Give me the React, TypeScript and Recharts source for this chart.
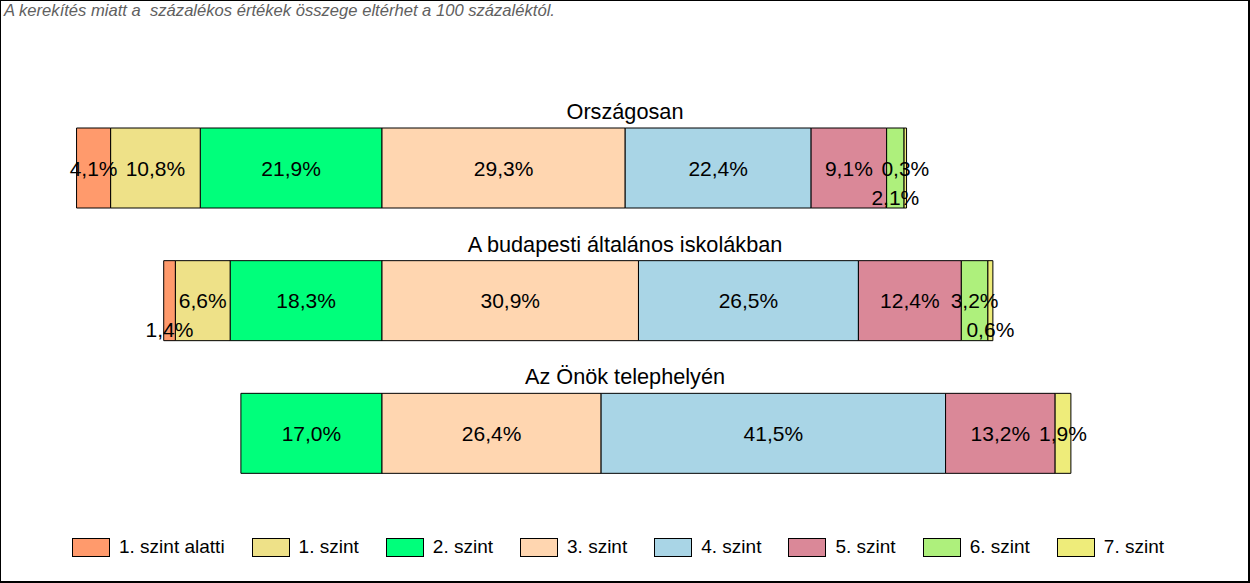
import React from 'react'
import { BarChart, Bar, XAxis, YAxis, Legend, LabelList } from 'recharts'

// ---- adatok ----
const categories = ['Országosan', 'A budapesti általános iskolákban', 'Az Önök telephelyén']

const szintAlatti = [4.1, 1.4, 0]
const szint1 = [10.8, 6.6, 0]
const szint2 = [21.9, 18.3, 17.0]
const szint3 = [29.3, 30.9, 26.4]
const szint4 = [22.4, 26.5, 41.5]
const szint5 = [9.1, 12.4, 13.2]
const szint6 = [2.1, 3.2, 0]
const szint7 = [0.3, 0.6, 1.9]

const legendNames = [
  '1. szint alatti',
  '1. szint',
  '2. szint',
  '3. szint',
  '4. szint',
  '5. szint',
  '6. szint',
  '7. szint',
]

const FONT = '"Liberation Sans", Arial, sans-serif'

// series: key, név, szín, balra (negatív) megy-e
const SERIES = [
  { key: 'alatti', name: legendNames[0], color: '#FF9A6C', values: szintAlatti, left: true },
  { key: 's1', name: legendNames[1], color: '#EEE188', values: szint1, left: true },
  { key: 's2', name: legendNames[2], color: '#00FF7B', values: szint2, left: true },
  { key: 's3', name: legendNames[3], color: '#FFD6B0', values: szint3, left: false },
  { key: 's4', name: legendNames[4], color: '#A9D5E6', values: szint4, left: false },
  { key: 's5', name: legendNames[5], color: '#DA8898', values: szint5, left: false },
  { key: 's6', name: legendNames[6], color: '#AEF07C', values: szint6, left: false },
  { key: 's7', name: legendNames[7], color: '#EEEC7A', values: szint7, left: false },
]

// negatív irányban a nullához legközelebbi sorozat jön előbb
const STACK_ORDER = ['s2', 's1', 'alatti', 's3', 's4', 's5', 's6', 's7']

const data = categories.map((name, i) => {
  const row: any = { name }
  SERIES.forEach((s) => {
    row[s.key] = s.left ? -s.values[i] : s.values[i]
  })
  return row
})

// címkék, amelyek lejjebb kerülnek (kis szeletek)
const SHIFTED = new Set(['s6-0', 'alatti-1', 's7-1'])

const fmt = (v: number) => Math.abs(v).toFixed(1).replace('.', ',') + '%'

const makeLabel = (key: string) => (props: any) => {
  const { x, y, width, height, value, index } = props
  if (!value) return null
  const cx = x + width / 2
  const dy = SHIFTED.has(`${key}-${index}`) ? 29 : 0
  return (
    <text
      x={cx}
      y={y + height / 2 + dy}
      textAnchor="middle"
      dominantBaseline="central"
      fontFamily={FONT}
      fontSize={21}
      fill="#000"
    >
      {fmt(value)}
    </text>
  )
}

// sorcím a sáv fölött, középre igazítva
const TitleLabel = (props: any) => {
  const { y, value } = props
  return (
    <text x={625} y={y - 9} textAnchor="middle" fontFamily={FONT} fontSize={21.7} fill="#000">
      {value}
    </text>
  )
}

const LegendContent = () => (
  <div style={{ display: 'flex', alignItems: 'center', fontFamily: FONT, fontSize: 19, color: '#000' }}>
    {SERIES.map((s) => (
      <div key={s.key} style={{ display: 'flex', alignItems: 'center', marginRight: 27 }}>
        <div
          style={{
            width: 38,
            height: 19,
            boxSizing: 'border-box',
            border: '1px solid #000',
            background: s.color,
            marginRight: 9,
          }}
        />
        <span style={{ whiteSpace: 'nowrap' }}>{s.name}</span>
      </div>
    ))}
  </div>
)

export default function App() {
  return (
    <div style={{ position: 'absolute', left: 0, top: 0, width: 1250, height: 583, background: '#fff' }}>
      <BarChart
        width={1250}
        height={583}
        data={data}
        layout="vertical"
        stackOffset="sign"
        margin={{ top: 102, right: 38, bottom: 83, left: 50 }}
      >
        <XAxis type="number" domain={[-40, 100]} hide allowDataOverflow />
        <YAxis type="category" dataKey="name" hide />
        {STACK_ORDER.map((k) => {
          const s = SERIES.find((x) => x.key === k)!
          return (
            <Bar
              key={k}
              dataKey={k}
              name={s.name}
              stackId="a"
              fill={s.color}
              stroke="#000"
              strokeWidth={1}
              barSize={80}
              isAnimationActive={false}
            >
              <LabelList dataKey={k} content={makeLabel(k)} />
              {k === 's3' && <LabelList dataKey="name" content={<TitleLabel />} />}
            </Bar>
          )
        })}
        <Legend
          layout="horizontal"
          verticalAlign="middle"
          content={<LegendContent />}
          wrapperStyle={{ top: 536, left: 72, width: 1150 }}
        />
      </BarChart>
      <div
        style={{
          position: 'absolute',
          left: 4,
          top: 1,
          fontFamily: FONT,
          fontStyle: 'italic',
          fontSize: 16.6,
          color: '#606060',
          whiteSpace: 'pre',
        }}
      >
        A kerekítés miatt a  százalékos értékek összege eltérhet a 100 százaléktól.
      </div>
      <div
        style={{
          position: 'absolute',
          left: 0,
          top: 0,
          width: 1250,
          height: 583,
          boxSizing: 'border-box',
          borderTop: '1px solid #000',
          borderLeft: '1px solid #000',
          borderRight: '2px solid #000',
          borderBottom: '2px solid #000',
          pointerEvents: 'none',
        }}
      />
    </div>
  )
}
